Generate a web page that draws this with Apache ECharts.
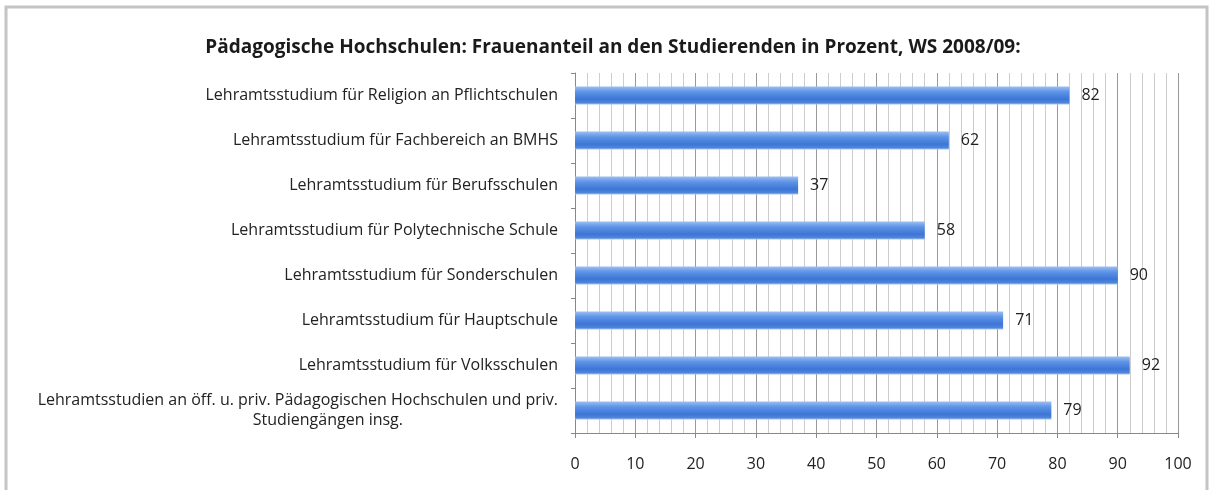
<!DOCTYPE html>
<html><head><meta charset="utf-8">
<script src="https://cdn.jsdelivr.net/npm/echarts@6/dist/echarts.min.js"></script>
<style>html,body{margin:0;padding:0;background:#fff}#c{width:1210px;height:490px}</style>
</head><body><div id="c"></div>
<script>
const title = 'Pädagogische Hochschulen: Frauenanteil an den Studierenden in Prozent, WS 2008/09:';
const categories = [
  'Lehramtsstudium für Religion an Pflichtschulen',
  'Lehramtsstudium für Fachbereich an BMHS',
  'Lehramtsstudium für Berufsschulen',
  'Lehramtsstudium für Polytechnische Schule',
  'Lehramtsstudium für Sonderschulen',
  'Lehramtsstudium für Hauptschule',
  'Lehramtsstudium für Volksschulen',
  'Lehramtsstudien an öff. u. priv. Pädagogischen Hochschulen und priv.\nStudiengängen insg.'
];
const values = [82, 62, 37, 58, 90, 71, 92, 79];
const xTicks = [0, 10, 20, 30, 40, 50, 60, 70, 80, 90, 100];

const font = '"Open Sans", sans-serif';
const chart = echarts.init(document.getElementById('c'));
chart.setOption({
  animation: false,
  title: {
    text: title, left: 608, top: 33, textAlign: 'center',
    textStyle: {fontFamily: font, fontSize: 19, fontWeight: 'bold', color: '#1a1a1a'}
  },
  graphic: [{
    type: 'rect', shape: {x: 6, y: 7, width: 1201, height: 500},
    style: {fill: 'none', stroke: '#c4c4c4', lineWidth: 3}, silent: true
  }],
  grid: {left: 575, right: 32, top: 73, bottom: 57},
  xAxis: {
    type: 'value', min: xTicks[0], max: xTicks[xTicks.length - 1], interval: 10,
    axisLine: {show: true, lineStyle: {color: '#888'}},
    axisTick: {show: true, length: 5, lineStyle: {color: '#888'}},
    axisLabel: {fontFamily: font, fontSize: 16, color: '#222', margin: 23},
    splitLine: {show: true, lineStyle: {color: '#999', width: 1}},
    minorTick: {show: false, splitNumber: 5},
    minorSplitLine: {show: true, lineStyle: {color: '#cdcdcd', width: 1}}
  },
  yAxis: {
    type: 'category', data: categories, inverse: true,
    axisLine: {show: true, lineStyle: {color: '#888'}},
    axisTick: {show: true, length: 4, lineStyle: {color: '#888'}},
    axisLabel: {
      fontFamily: font, fontSize: 16, color: '#222', margin: 17, lineHeight: 20,
      formatter: function (v) {
        if (v.indexOf('\n') >= 0) {
          const parts = v.split('\n');
          return '{a|' + parts[0] + '}\n{b|' + parts[1] + '}';
        }
        return v;
      },
      rich: {
        a: {fontFamily: font, fontSize: 16, color: '#222', lineHeight: 20},
        b: {fontFamily: font, fontSize: 16, color: '#222', lineHeight: 20, padding: [0, 155, 0, 0]}
      }
    }
  },
  series: [{
    type: 'bar', data: values, barWidth: '40%',
    itemStyle: {
      color: new echarts.graphic.LinearGradient(0, 0, 0, 1, [
        {offset: 0, color: '#9cc0f2'},
        {offset: 0.3, color: '#5e93e6'},
        {offset: 0.7, color: '#3c76d6'},
        {offset: 0.9, color: '#4f86dc'},
        {offset: 1, color: '#a8c6ee'}
      ])
    },
    label: {show: true, position: 'right', distance: 12, fontFamily: font, fontSize: 16, color: '#222'}
  }]
});
</script></body></html>
